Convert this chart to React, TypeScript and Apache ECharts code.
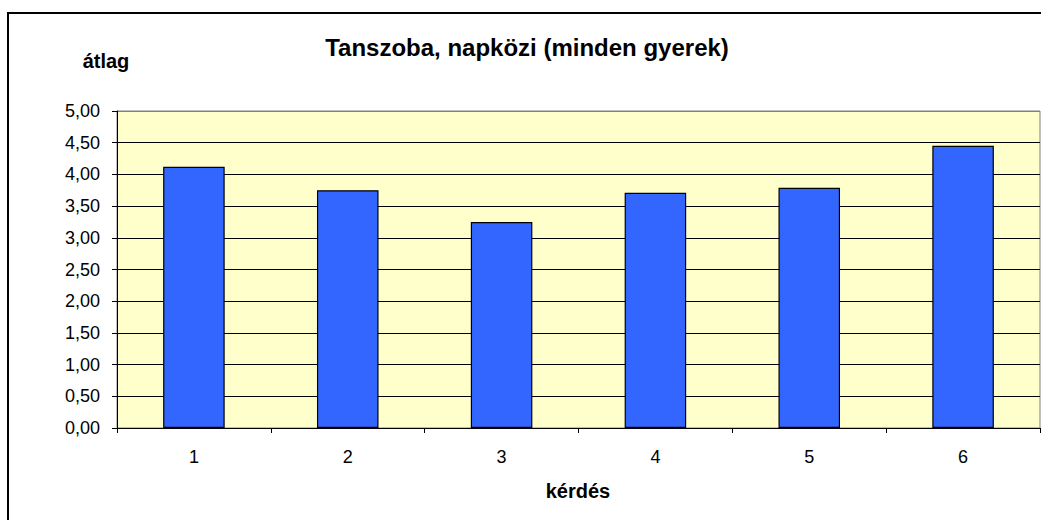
import React, { useEffect, useRef } from "react";
import * as echarts from "echarts";

const titleText = "Tanszoba, napközi (minden gyerek)";
const yAxisName = "átlag";
const xAxisName = "kérdés";
const categories = ["1", "2", "3", "4", "5", "6"];
const values = [4.12, 3.75, 3.25, 3.71, 3.79, 4.45];
const yMin = 0;
const yMax = 5;
const yInterval = 0.5;

const FONT = 'Arial, "Liberation Sans", sans-serif';

export default function App() {
  const ref = useRef<HTMLDivElement>(null);
  useEffect(() => {
    if (!ref.current) return;
    const chart = echarts.init(ref.current, null, { renderer: "svg" });
    const splitColors: string[] = [];
    for (let i = 0; i < 10; i++) splitColors.push("#000000");
    splitColors.push("#808080");
    chart.setOption({
      animation: false,
      backgroundColor: "#ffffff",
      textStyle: { fontFamily: FONT },
      grid: {
        left: 117,
        top: 111,
        right: 1,
        bottom: 92,
        show: true,
        backgroundColor: "#FFFFCC",
        borderColor: "#808080",
        borderWidth: 1,
      },
      xAxis: {
        type: "category",
        data: categories,
        boundaryGap: true,
        axisLine: { show: true, lineStyle: { color: "#000", width: 1 } },
        axisTick: { show: true, length: 5, alignWithLabel: false, lineStyle: { color: "#000" } },
        axisLabel: { color: "#000", fontSize: 18, fontFamily: FONT, margin: 20 },
        splitLine: { show: false },
      },
      yAxis: {
        type: "value",
        min: yMin,
        max: yMax,
        interval: yInterval,
        axisLine: { show: true, lineStyle: { color: "#000", width: 1 } },
        axisTick: { show: true, length: 5, lineStyle: { color: "#000" } },
        axisLabel: {
          color: "#000",
          fontSize: 18,
          fontFamily: FONT,
          margin: 17,
          formatter: (v: number) => v.toFixed(2).replace(".", ","),
        },
        splitLine: { show: true, lineStyle: { color: splitColors, width: 1 } },
      },
      series: [
        {
          type: "bar",
          data: values,
          barWidth: "40%",
          itemStyle: { color: "#3366FF", borderColor: "#000", borderWidth: 1.2 },
        },
      ],
      graphic: [
        {
          type: "rect",
          shape: { x: 8, y: 13, width: 1060, height: 540 },
          style: { fill: "none", stroke: "#000", lineWidth: 2 },
          z: 100,
        },
        {
          type: "text",
          x: 527,
          y: 47,
          style: {
            text: titleText,
            font: `bold 24px ${FONT}`,
            fill: "#000",
            textAlign: "center",
            textVerticalAlign: "middle",
          },
        },
        {
          type: "text",
          x: 106,
          y: 61,
          style: {
            text: yAxisName,
            font: `bold 20px ${FONT}`,
            fill: "#000",
            textAlign: "center",
            textVerticalAlign: "middle",
          },
        },
        {
          type: "text",
          x: 578,
          y: 491,
          style: {
            text: xAxisName,
            font: `bold 20px ${FONT}`,
            fill: "#000",
            textAlign: "center",
            textVerticalAlign: "middle",
          },
        },
      ],
    });
    return () => chart.dispose();
  }, []);
  return (
    <div
      ref={ref}
      style={{ position: "absolute", left: 0, top: 0, width: 1041, height: 520 }}
    />
  );
}
